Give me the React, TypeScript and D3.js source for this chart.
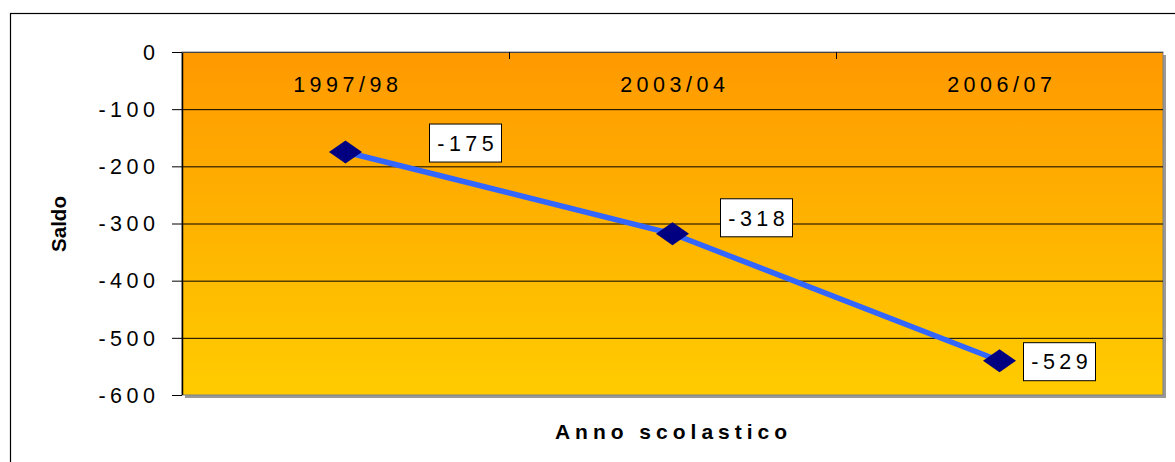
import * as d3 from "d3";

const categories = ["1997/98", "2003/04", "2006/07"];
const saldo = [-175, -318, -540];
const dataLabels = ["-175", "-318", "-529"];
const yTicks = [0, -100, -200, -300, -400, -500, -600];
// label box offsets from each point (dx, dy of box centre)
const labelOffsets = [
  [120, -9],
  [84, -16],
  [60, 1],
];

const W = 1175;
const H = 462;
const plot = { left: 182, top: 52, right: 1163, bottom: 395 };
const font = "'Liberation Sans', Arial, Helvetica, sans-serif";
const fs = 21.5;
const ls = 4.5;

export default function App() {
  const x = d3
    .scaleBand<string>()
    .domain(categories)
    .range([plot.left, plot.right]);
  const y = d3.scaleLinear().domain([0, -600]).range([plot.top, plot.bottom]);
  const cx = (c: string) => (x(c) ?? 0) + x.bandwidth() / 2;

  const line = d3
    .line<number>()
    .x((_, i) => cx(categories[i]))
    .y((d) => y(d));

  const pw = plot.right - plot.left;
  const ph = plot.bottom - plot.top;

  return (
    <svg
      width={W}
      height={H}
      style={{ position: "absolute", left: 0, top: 0 }}
      fontFamily={font}
    >
      <defs>
        <linearGradient id="bg" x1="0" y1="0" x2="0" y2="1">
          <stop offset="0" stopColor="#FF9900" />
          <stop offset="1" stopColor="#FFCC00" />
        </linearGradient>
      </defs>
      <rect x={0} y={0} width={W} height={H} fill="#fff" />
      <rect
        x={10.5}
        y={13.5}
        width={1300}
        height={600}
        fill="none"
        stroke="#000"
        strokeWidth={1.2}
      />

      {/* plot area with shadow */}
      <rect
        x={plot.left + 3}
        y={plot.top + 3}
        width={pw}
        height={ph}
        fill="#999"
      />
      <rect
        x={plot.left}
        y={plot.top}
        width={pw}
        height={ph}
        fill="url(#bg)"
        stroke="#808080"
        strokeWidth={1}
      />

      {/* gridlines */}
      {yTicks.slice(1, -1).map((t) => (
        <line
          key={t}
          x1={plot.left}
          x2={plot.right}
          y1={y(t) + 0.5}
          y2={y(t) + 0.5}
          stroke="#000"
          strokeWidth={1}
        />
      ))}

      {/* y axis */}
      <line
        x1={plot.left + 0.5}
        x2={plot.left + 0.5}
        y1={plot.top}
        y2={plot.bottom}
        stroke="#000"
        strokeWidth={1.5}
      />
      {yTicks.map((t) => (
        <g key={t}>
          <line
            x1={plot.left - 10}
            x2={plot.left}
            y1={y(t) + 0.5}
            y2={y(t) + 0.5}
            stroke="#000"
          />
          <text
            x={155 + ls}
            y={y(t)}
            dy="0.36em"
            textAnchor="end"
            fontSize={fs}
            letterSpacing={ls}
          >
            {t === 0 ? "0" : `-${Math.abs(t)}`}
          </text>
        </g>
      ))}

      {/* category axis at top (value 0) */}
      <line
        x1={plot.left}
        x2={plot.right}
        y1={plot.top + 0.5}
        y2={plot.top + 0.5}
        stroke="#444"
        strokeWidth={1}
      />
      {categories.slice(1).map((c) => (
        <line
          key={c}
          x1={(x(c) ?? 0) + 0.5}
          x2={(x(c) ?? 0) + 0.5}
          y1={plot.top}
          y2={plot.top + 7}
          stroke="#000"
        />
      ))}
      {categories.map((c) => (
        <text
          key={c}
          x={cx(c) + ls / 2}
          y={92}
          textAnchor="middle"
          fontSize={fs}
          letterSpacing={ls}
        >
          {c}
        </text>
      ))}

      {/* series */}
      <path d={line(saldo) ?? ""} fill="none" stroke="#3366FF" strokeWidth={5.5} />
      {saldo.map((v, i) => {
        const px = cx(categories[i]);
        const py = y(v);
        return (
          <path
            key={i}
            d={`M${px - 16.5},${py}L${px},${py - 11.5}L${px + 16.5},${py}L${px},${py + 11.5}Z`}
            fill="#000080"
          />
        );
      })}

      {/* data labels */}
      {saldo.map((v, i) => {
        const bx = cx(categories[i]) + labelOffsets[i][0];
        const by = y(v) + labelOffsets[i][1];
        return (
          <g key={i}>
            <rect
              x={bx - 36}
              y={by - 19}
              width={72}
              height={38}
              fill="#fff"
              stroke="#000"
              strokeWidth={1}
            />
            <text
              x={bx + ls / 2}
              y={by}
              dy="0.36em"
              textAnchor="middle"
              fontSize={fs}
              letterSpacing={ls}
            >
              {dataLabels[i]}
            </text>
          </g>
        );
      })}

      {/* axis titles */}
      <text
        transform={`translate(66,224) rotate(-90)`}
        textAnchor="middle"
        fontSize={20.5}
        fontWeight="bold"
      >
        Saldo
      </text>
      <text
        x={671 + 2.5}
        y={439}
        textAnchor="middle"
        fontSize={21}
        fontWeight="bold"
        letterSpacing={5}
      >
        Anno scolastico
      </text>
    </svg>
  );
}
